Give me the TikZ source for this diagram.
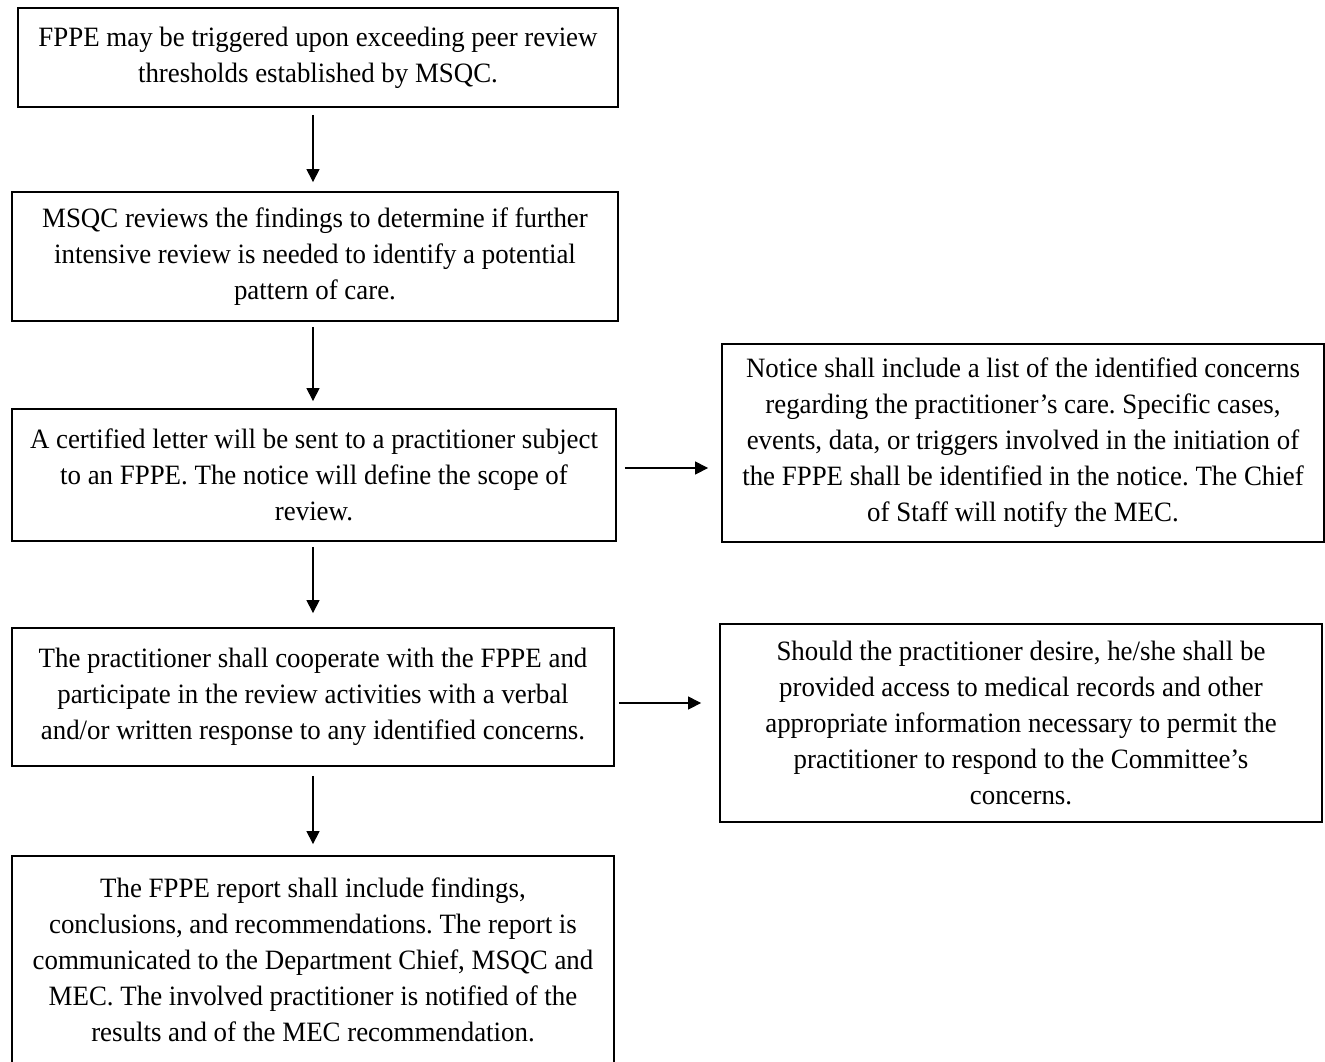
\documentclass[tikz,border=0pt]{standalone}
\usepackage{fontspec}
\setmainfont[FakeStretch=0.96]{Liberation Serif}
\usetikzlibrary{arrows.meta}
\frenchspacing

\begin{document}
\begin{tikzpicture}[x=1pt,y=-1pt,
    block/.style={draw,line width=1.8pt,align=center,inner sep=0pt,font=\fontsize{28}{36}\selectfont},
    arr/.style={-{Triangle[length=13pt,width=13pt]},line width=1.1pt}]
    \useasboundingbox (0,0) rectangle (1325,1061);

    % Main steps
    \node[block,minimum width=600,minimum height=99] (trigger) at (318,57.5)
        {FPPE may be triggered upon exceeding peer review\\thresholds established by MSQC.};
    \node[block,minimum width=606,minimum height=129] (review) at (315,256.5)
        {MSQC reviews the findings to determine if further\\intensive review is needed to identify a potential\\pattern of care.};
    \node[block,minimum width=604,minimum height=132] (letter) at (314,475)
        {A certified letter will be sent to a practitioner subject\\to an FPPE. The notice will define the scope of\\review.};
    \node[block,minimum width=602,minimum height=138] (cooperate) at (313,697)
        {The practitioner shall cooperate with the FPPE and\\participate in the review activities with a verbal\\and/or written response to any identified concerns.};
    \node[block,minimum width=602,minimum height=208] (report) at (313,960)
        {The FPPE report shall include findings,\\conclusions, and recommendations. The report is\\communicated to the Department Chief, MSQC and\\MEC. The involved practitioner is notified of the\\results and of the MEC recommendation.};

    % Side notes
    \node[block,minimum width=602,minimum height=198] (notice) at (1023,443)
        {Notice shall include a list of the identified concerns\\regarding the practitioner’s care. Specific cases,\\events, data, or triggers involved in the initiation of\\the FPPE shall be identified in the notice. The Chief\\of Staff will notify the MEC.};
    \node[block,minimum width=602,minimum height=198] (access) at (1021,723)
        {Should the practitioner desire, he/she shall be\\provided access to medical records and other\\appropriate information necessary to permit the\\practitioner to respond to the Committee’s\\concerns.};

    % Downward flow
    \coordinate (spine) at (313,0);
    \draw[arr,shorten <=7pt,shorten >=9pt] (trigger.south -| spine) -- (review.north -| spine);
    \draw[arr,shorten <=5pt,shorten >=7pt] (review.south -| spine) -- (letter.north -| spine);
    \draw[arr,shorten <=5pt,shorten >=14pt] (letter.south -| spine) -- (cooperate.north -| spine);
    \draw[arr,shorten <=9pt,shorten >=11pt] (cooperate.south -| spine) -- (report.north -| spine);

    % Sideways flow
    \draw[arr,shorten <=8pt,shorten >=13pt] ([yshift=7pt]letter.east) -- ([yshift=7pt]letter.east -| notice.west);
    \draw[arr,shorten <=4pt,shorten >=18pt] ([yshift=-6pt]cooperate.east) -- ([yshift=-6pt]cooperate.east -| access.west);
\end{tikzpicture}
\end{document}
